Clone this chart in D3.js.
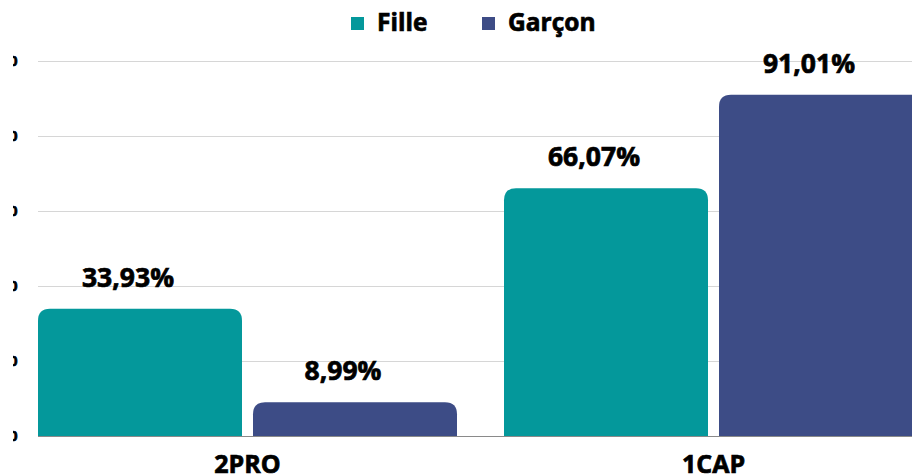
<!DOCTYPE html>
<html>
<head>
<meta charset="utf-8">
<script src="https://cdn.jsdelivr.net/npm/d3@7"></script>
<style>
  html, body { margin: 0; padding: 0; background: #fff; }
  svg { display: block; font-family: "Open Sans", sans-serif; }
  .heavy { stroke: #000; stroke-width: 0.7px; paint-order: stroke; }
</style>
</head>
<body>
<div id="chart"></div>
<script>
var categories = ["2PRO", "1CAP"];
var seriesNames = ["Fille", "Garçon"];
var fille = [33.93, 66.07];
var garcon = [8.99, 91.01];
var yTicks = [0, 20, 40, 60, 80, 100];
var colors = ["#04989b", "#3d4c86"];

var width = 912;
var height = 474;

var svg = d3.select("#chart")
    .append("svg")
    .attr("width", width)
    .attr("height", height);

// scales
var x0 = d3.scaleBand()
    .domain(categories)
    .range([38, 923])
    .paddingInner(47 / 466)
    .paddingOuter(0);

var x1 = d3.scaleBand()
    .domain(seriesNames)
    .range([0, x0.bandwidth()])
    .paddingInner(11 / 215);

var y = d3.scaleLinear()
    .domain([0, 100])
    .range([436, 61]);

var color = d3.scaleOrdinal().domain(seriesNames).range(colors);

// rows
var rows = categories.map(function(c, i) {
    return { cat: c, values: [
        { key: seriesNames[0], value: fille[i] },
        { key: seriesNames[1], value: garcon[i] }
    ] };
});

// grid
var gGrid = svg.append("g");
gGrid.selectAll("line")
    .data(yTicks.filter(function(t) { return t > 0; }))
    .enter()
    .append("line")
    .attr("x1", 38)
    .attr("x2", width)
    .attr("y1", function(t) { return Math.round(y(t)) + 0.5; })
    .attr("y2", function(t) { return Math.round(y(t)) + 0.5; })
    .attr("stroke", "#d6d6d6")
    .attr("stroke-width", 1);

// y axis labels (mostly cut off on the left)
svg.append("clipPath").attr("id", "yclip")
    .append("rect").attr("x", 13).attr("y", 0).attr("width", 20).attr("height", height);

var gY = svg.append("g").attr("clip-path", "url(#yclip)");
gY.selectAll("text")
    .data(yTicks)
    .enter()
    .append("text")
    .attr("class", "heavy")
    .attr("x", 17.5)
    .attr("y", function(t) { return y(t); })
    .attr("dy", "0.36em")
    .attr("text-anchor", "end")
    .attr("font-size", 15)
    .attr("font-weight", 700)
    .attr("fill", "#000")
    .text(function(t) { return t; });

// rounded-top bar path
function topRounded(x, yTop, w, h, r) {
    r = Math.min(r, h, w / 2);
    return "M" + x + "," + (yTop + h) +
        "V" + (yTop + r) +
        "Q" + x + "," + yTop + " " + (x + r) + "," + yTop +
        "H" + (x + w - r) +
        "Q" + (x + w) + "," + yTop + " " + (x + w) + "," + (yTop + r) +
        "V" + (yTop + h) + "Z";
}

var gBars = svg.append("g");
var groups = gBars.selectAll("g")
    .data(rows)
    .enter()
    .append("g")
    .attr("transform", function(d) { return "translate(" + x0(d.cat) + ",0)"; });

groups.selectAll("path")
    .data(function(d) { return d.values; })
    .enter()
    .append("path")
    .attr("d", function(d) {
        return topRounded(x1(d.key), y(d.value), x1.bandwidth(), y(0) - y(d.value), 12);
    })
    .attr("fill", function(d) { return color(d.key); });

// baseline
svg.append("line")
    .attr("x1", 38)
    .attr("x2", width)
    .attr("y1", y(0) + 0.5)
    .attr("y2", y(0) + 0.5)
    .attr("stroke", "#8a8a8a")
    .attr("stroke-width", 1);

// value labels
groups.selectAll("text")
    .data(function(d) { return d.values; })
    .enter()
    .append("text")
    .attr("class", "heavy")
    .attr("x", function(d) { return x1(d.key) + x1.bandwidth() / 2 - 12; })
    .attr("y", function(d) { return y(d.value) - 22; })
    .attr("text-anchor", "middle")
    .attr("font-size", 26.5)
    .attr("font-weight", 700)
    .attr("fill", "#000")
    .text(function(d) { return d.value.toFixed(2).replace(".", ",") + "%"; });

// category labels
svg.append("g").selectAll("text")
    .data(categories)
    .enter()
    .append("text")
    .attr("class", "heavy")
    .attr("x", function(c) { return x0(c) + x0.bandwidth() / 2; })
    .attr("y", 473)
    .attr("text-anchor", "middle")
    .attr("font-size", 25)
    .attr("font-weight", 700)
    .attr("fill", "#000")
    .text(function(c) { return c; });

// legend
var legendX = [351, 482];
var legend = svg.append("g").selectAll("g")
    .data(seriesNames)
    .enter()
    .append("g")
    .attr("transform", function(d, i) { return "translate(" + legendX[i] + ",0)"; });

legend.append("rect")
    .attr("x", 0)
    .attr("y", 17)
    .attr("width", 13)
    .attr("height", 13)
    .attr("fill", function(d) { return color(d); });

legend.append("text")
    .attr("class", "heavy")
    .attr("x", 26)
    .attr("y", 31)
    .attr("font-size", 24.5)
    .attr("font-weight", 700)
    .attr("fill", "#000")
    .text(function(d) { return d; });
</script>
</body>
</html>
